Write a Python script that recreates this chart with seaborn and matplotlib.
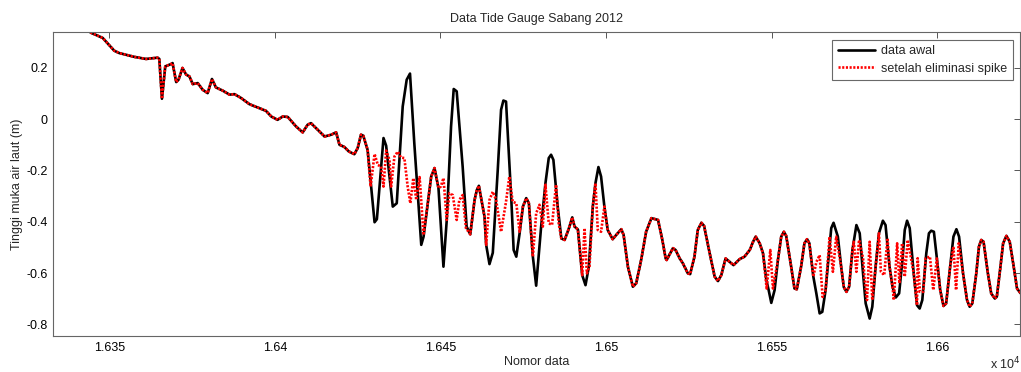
import numpy as np
import pandas as pd
import seaborn as sns
import matplotlib
matplotlib.use("Agg")
import matplotlib.pyplot as plt

# ---------------- data ----------------
# original record "data awal" (vertices of the curve)
data_x = [16344.3, 16348.0, 16351.5, 16353.0, 16357.6, 16361.1, 16364.6, 16365.1, 16365.9, 16366.9,
          16368.6, 16369.1, 16370.2, 16370.9, 16372.1, 16373.2, 16374.2, 16375.2, 16376.7, 16378.2,
          16379.7, 16381.0, 16382.2, 16384.2, 16386.3, 16387.8, 16389.8, 16392.3, 16394.8, 16397.3,
          16398.9, 16400.8, 16402.4, 16403.9, 16406.4, 16408.4, 16409.9, 16410.9, 16412.4, 16415.0,
          16417.0, 16418.5, 16419.5, 16421.0, 16422.3, 16424.0, 16425.0, 16426.0, 16426.7, 16428.0,
          16429.1, 16430.1, 16430.8, 16432.8, 16433.6, 16435.6, 16436.8, 16438.6, 16439.8, 16440.8,
          16442.1, 16443.7, 16444.2, 16444.9, 16447.2, 16448.2, 16449.4, 16450.9, 16451.9, 16453.2,
          16454.0, 16454.9, 16456.7, 16457.9, 16459.0, 16460.3, 16461.0, 16461.6, 16463.3, 16463.8,
          16464.8, 16465.8, 16467.3, 16468.3, 16469.0, 16469.8, 16471.4, 16472.1, 16472.9, 16473.9,
          16474.9, 16475.9, 16476.7, 16477.9, 16478.9, 16480.4, 16481.7, 16482.7, 16483.4, 16484.1,
          16485.4, 16486.5, 16487.5, 16488.8, 16489.8, 16490.5, 16491.5, 16492.8, 16493.8, 16494.8,
          16496.0, 16496.8, 16497.7, 16498.5, 16499.5, 16500.5, 16502.0, 16503.1, 16504.6, 16505.3,
          16506.6, 16508.1, 16509.1, 16510.6, 16512.1, 16513.7, 16515.7, 16517.0, 16518.0, 16518.3,
          16520.2, 16521.0, 16522.2, 16523.2, 16524.7, 16525.4, 16526.7, 16527.7, 16528.8, 16529.6,
          16531.3, 16532.8, 16533.8, 16534.8, 16536.1, 16537.3, 16538.5, 16540.3, 16541.8, 16543.4,
          16544.4, 16545.2, 16546.4, 16547.4, 16548.4, 16549.1, 16549.9, 16550.9, 16551.9, 16552.9,
          16553.7, 16554.4, 16555.9, 16556.9, 16557.6, 16558.9, 16559.9, 16560.7, 16561.4, 16562.6,
          16563.5, 16564.5, 16565.3, 16566.3, 16567.3, 16568.0, 16568.7, 16570.0, 16571.0, 16571.8,
          16572.6, 16573.4, 16574.4, 16575.6, 16576.6, 16577.6, 16578.4, 16579.6, 16580.4, 16581.4,
          16582.4, 16583.6, 16584.4, 16585.6, 16586.5, 16587.5, 16588.5, 16589.5, 16590.2, 16590.9,
          16591.7, 16592.9, 16593.9, 16594.7, 16595.5, 16596.7, 16597.5, 16598.2, 16599.0, 16599.9,
          16600.9, 16601.9, 16602.7, 16603.9, 16604.9, 16605.8, 16606.6, 16607.8, 16609.0, 16609.8,
          16610.6, 16611.8, 16612.6, 16613.3, 16614.0, 16615.3, 16616.3, 16617.4, 16618.0, 16619.1,
          16619.9, 16620.9, 16621.9, 16623.1, 16624.1, 16625.2]
data_y = [0.337, 0.316, 0.266, 0.257, 0.242, 0.234, 0.239, 0.234, 0.079, 0.205,
          0.214, 0.218, 0.144, 0.153, 0.199, 0.173, 0.166, 0.136, 0.140, 0.114,
          0.101, 0.156, 0.123, 0.111, 0.095, 0.097, 0.082, 0.058, 0.045, 0.032,
          0.010, -0.003, 0.010, 0.008, -0.029, -0.052, -0.022, -0.016, -0.035, -0.068,
          -0.061, -0.052, -0.100, -0.109, -0.126, -0.137, -0.113, -0.061, -0.065, -0.120,
          -0.269, -0.402, -0.390, -0.074, -0.104, -0.341, -0.328, 0.049, 0.153, 0.177,
          -0.094, -0.393, -0.490, -0.458, -0.224, -0.191, -0.269, -0.575, -0.393, -0.029,
          0.117, 0.108, -0.185, -0.419, -0.449, -0.315, -0.276, -0.260, -0.380, -0.490,
          -0.565, -0.521, -0.198, 0.036, 0.072, 0.068, -0.315, -0.510, -0.536, -0.445,
          -0.341, -0.308, -0.328, -0.536, -0.649, -0.419, -0.250, -0.152, -0.139, -0.159,
          -0.341, -0.465, -0.471, -0.425, -0.383, -0.419, -0.430, -0.608, -0.647, -0.575,
          -0.341, -0.250, -0.187, -0.224, -0.341, -0.432, -0.468, -0.451, -0.429, -0.451,
          -0.575, -0.653, -0.640, -0.549, -0.439, -0.386, -0.393, -0.471, -0.543, -0.549,
          -0.503, -0.510, -0.542, -0.562, -0.601, -0.604, -0.536, -0.432, -0.404, -0.416,
          -0.523, -0.614, -0.631, -0.608, -0.543, -0.556, -0.569, -0.546, -0.536, -0.510,
          -0.478, -0.458, -0.484, -0.523, -0.627, -0.666, -0.716, -0.666, -0.549, -0.458,
          -0.439, -0.455, -0.575, -0.660, -0.663, -0.575, -0.484, -0.468, -0.484, -0.614,
          -0.679, -0.757, -0.751, -0.666, -0.523, -0.425, -0.404, -0.458, -0.575, -0.655,
          -0.673, -0.653, -0.510, -0.413, -0.445, -0.601, -0.718, -0.777, -0.731, -0.575,
          -0.445, -0.396, -0.413, -0.575, -0.653, -0.695, -0.679, -0.549, -0.432, -0.396,
          -0.425, -0.601, -0.725, -0.738, -0.705, -0.523, -0.445, -0.435, -0.439, -0.543,
          -0.666, -0.728, -0.718, -0.575, -0.458, -0.429, -0.458, -0.601, -0.705, -0.731,
          -0.718, -0.601, -0.497, -0.471, -0.478, -0.601, -0.679, -0.699, -0.692, -0.575,
          -0.484, -0.455, -0.478, -0.575, -0.660, -0.679]

# spans of the record where spikes were removed (x ranges)
spike_lo = [16428.5, 16449.9, 16464.0, 16478.5, 16493.0, 16497.2, 16548.0, 16563.0, 16574.6,
            16582.8, 16587.0, 16594.0, 16604.5]
spike_hi = [16445.0, 16458.5, 16474.0, 16486.0, 16495.5, 16499.0, 16551.5, 16570.5, 16581.0,
            16584.9, 16592.0, 16599.5, 16607.0]

# replacement values "setelah eliminasi spike" inside those spans
clean_x = [16428.9, 16430.1, 16431.1, 16432.1, 16432.8, 16433.6, 16434.6, 16435.1, 16436.1, 16437.1,
           16438.1, 16439.1, 16440.1, 16440.9, 16441.8, 16442.7, 16443.7, 16444.9,
           16450.1, 16450.9, 16451.9, 16452.7, 16453.7, 16454.9, 16455.7, 16456.7, 16457.7,
           16464.8, 16465.8, 16466.8, 16468.3, 16469.8, 16470.8, 16471.8, 16472.9, 16473.9,
           16478.9, 16479.9, 16480.9, 16481.7, 16482.7, 16483.7, 16484.9, 16485.7,
           16493.5, 16494.2, 16495.0,
           16497.5, 16498.5,
           16548.5, 16549.6, 16550.4,
           16563.5, 16564.5, 16565.4, 16566.3, 16567.5, 16568.5, 16569.5,
           16574.8, 16575.6, 16576.4, 16577.6, 16578.1, 16578.8, 16579.6, 16580.4,
           16583.0, 16584.0, 16585.0,
           16586.9, 16587.9, 16588.6, 16589.4, 16590.2, 16591.1,
           16594.1, 16594.8, 16595.8, 16596.5, 16597.8, 16598.8,
           16604.9, 16605.7, 16606.5]
clean_y = [-0.263, -0.136, -0.179, -0.185, -0.263, -0.123, -0.159, -0.263, -0.146, -0.127,
           -0.150, -0.152, -0.263, -0.328, -0.230, -0.315, -0.226, -0.452,
           -0.263, -0.230, -0.393, -0.289, -0.296, -0.393, -0.315, -0.296, -0.425,
           -0.315, -0.283, -0.315, -0.439, -0.322, -0.224, -0.322, -0.328, -0.439,
           -0.367, -0.334, -0.419, -0.256, -0.406, -0.412, -0.256, -0.406,
           -0.425, -0.601, -0.575,
           -0.432, -0.439,
           -0.660, -0.510, -0.660,
           -0.557, -0.530, -0.693, -0.666, -0.458, -0.595, -0.458,
           -0.478, -0.595, -0.471, -0.541, -0.627, -0.705, -0.478, -0.705,
           -0.595, -0.608, -0.464,
           -0.705, -0.484, -0.640, -0.484, -0.614, -0.471,
           -0.542, -0.673, -0.673, -0.542, -0.536, -0.666,
           -0.497, -0.666, -0.484]

x_ticks = [16350, 16400, 16450, 16500, 16550, 16600]
x_tick_labels = ["1.635", "1.64", "1.645", "1.65", "1.655", "1.66"]
y_ticks = [-0.8, -0.6, -0.4, -0.2, 0, 0.2]
y_tick_labels = ["-0.8", "-0.6", "-0.4", "-0.2", "0", "0.2"]

# ---------------- build frames ----------------
bx = np.array(data_x)
by = np.array(data_y)
inside = np.zeros(len(bx), dtype=bool)
for lo, hi in zip(spike_lo, spike_hi):
    inside |= (bx >= lo) & (bx <= hi)
rx = np.concatenate([bx[~inside], np.array(clean_x)])
ry = np.concatenate([by[~inside], np.array(clean_y)])
order = np.argsort(rx, kind="stable")
raw_df = pd.DataFrame({"x": bx, "y": by})
clean_df = pd.DataFrame({"x": rx[order], "y": ry[order]})

# ---------------- plot ----------------
sns.set_theme(style="white")
plt.rcParams["font.family"] = ["Liberation Sans", "DejaVu Sans"]

fig = plt.figure(figsize=(10.21, 3.72), dpi=100)
ax = fig.add_axes([53 / 1021, 1 - 336 / 372, (1020 - 53) / 1021, (336 - 32) / 372])

sns.lineplot(data=raw_df, x="x", y="y", ax=ax, color="black", lw=1.9,
             estimator=None, sort=False, label="data awal")
sns.lineplot(data=clean_df, x="x", y="y", ax=ax, color="#ff0000", lw=1.9,
             estimator=None, sort=False, label="setelah eliminasi spike",
             linestyle=(0, (0.8, 0.6)))

ax.set_xlim(16333, 16625)
ax.set_ylim(-0.845, 0.339)
ax.set_xticks(x_ticks)
ax.set_xticklabels(x_tick_labels)
ax.set_yticks(y_ticks)
ax.set_yticklabels(y_tick_labels)
ax.tick_params(direction="in", length=4, width=0.7, colors="#555555", labelcolor="black",
               labelsize=9, top=True, right=True, pad=4)
for s in ax.spines.values():
    s.set_color("#666666")
    s.set_linewidth(0.8)
ax.grid(False)

ax.set_title("Data Tide Gauge Sabang 2012", fontsize=9, pad=7)
ax.set_xlabel("Nomor data", fontsize=9, labelpad=2)
ax.set_ylabel("Tinggi muka air laut (m)", fontsize=9, labelpad=2.5)
fig.text(1005 / 1021, 1 - 369 / 372, r"x 10$^{4}$", fontsize=9, ha="center", va="baseline")

leg = ax.legend(loc="upper right", fontsize=9, frameon=True, fancybox=False,
                edgecolor="#444444", borderpad=0.45, labelspacing=0.45,
                handlelength=3.0, handletextpad=0.45, borderaxespad=0.6)
leg.get_frame().set_linewidth(0.8)

fig.savefig("out.png", dpi=100)
